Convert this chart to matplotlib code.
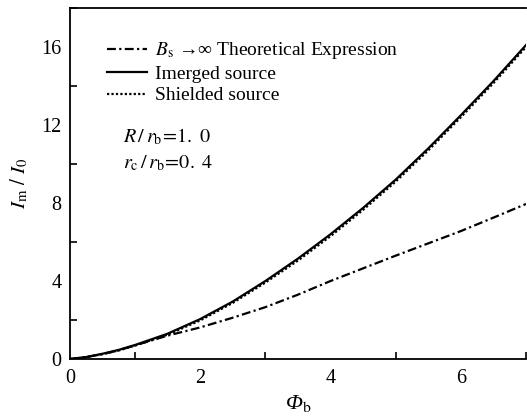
import numpy as np
import matplotlib
matplotlib.use("Agg")
import matplotlib.pyplot as plt
from matplotlib.ticker import MultipleLocator

plt.rcParams['font.family'] = ['Liberation Serif', 'DejaVu Serif']
plt.rcParams['mathtext.fontset'] = 'stix'

# values
phi = [0.0, 0.25, 0.5, 0.75, 1.0, 1.5, 2.0, 2.5, 3.0, 3.5, 4.0, 4.5, 5.0, 5.5, 6.0, 6.5, 7.0]
theory = [0.0, 0.1, 0.25, 0.45, 0.7, 1.2, 1.62, 2.12, 2.66, 3.3, 4.0, 4.65, 5.3, 5.93, 6.56, 7.25, 7.95]
imerged = [0.0, 0.1, 0.27, 0.47, 0.72, 1.3, 2.05, 2.95, 4.0, 5.15, 6.4, 7.75, 9.2, 10.8, 12.5, 14.25, 16.1]
shielded = [0.0, 0.09, 0.25, 0.44, 0.69, 1.25, 1.98, 2.88, 3.92, 5.05, 6.3, 7.65, 9.1, 10.7, 12.4, 14.15, 16.0]

fig = plt.figure(figsize=(5.27, 4.18), dpi=100)
ax = fig.add_axes([70 / 527, (418 - 359) / 418, 456 / 527, 351 / 418])

ax.plot(phi, theory, color='k', lw=1.6, ls=(0, (4, 1.5, 1, 1.5)),
        label=r'$B_{\rm s}$ →∞ Theoretical Expression')
ax.plot(phi, imerged, color='k', lw=1.6, ls='-', label='Imerged source')
ax.plot(phi, shielded, color='k', lw=1.6, ls=(0, (1, 1)), label='Shielded source')

ax.set_xlim(0, 7)
ax.set_ylim(0, 18)
ax.xaxis.set_major_locator(MultipleLocator(2))
ax.xaxis.set_minor_locator(MultipleLocator(1))
ax.yaxis.set_major_locator(MultipleLocator(4))
ax.yaxis.set_minor_locator(MultipleLocator(2))
ax.tick_params(which='both', direction='in', labelsize=14.5, top=False, right=False)
ax.tick_params(which='major', length=0)
ax.tick_params(axis='x', which='major', pad=7)
ax.tick_params(axis='y', which='major', pad=6)
ax.tick_params(which='minor', length=5, width=1.2)
for s in ax.spines.values():
    s.set_linewidth(1.3)
ax.spines['right'].set_visible(False)

ax.set_xlabel('Φ' + r'$_{\rm b}$', fontsize=16, fontstyle='italic', labelpad=4)
ax.set_ylabel(r'$I_{\rm m}\ /\ I_0$', fontsize=15, labelpad=8)

ax.text(0.116, 0.632, r'$R\,/\,r_{\rm b}\!=\!1.\ 0$', transform=ax.transAxes, fontsize=14.5, va='center')
ax.text(0.116, 0.558, r'$r_{\rm c}\,/\,r_{\rm b}\!=\!0.\ 4$', transform=ax.transAxes, fontsize=14.5, va='center')

ax.legend(loc='upper left', bbox_to_anchor=(0.065, 0.93), frameon=False, fontsize=14,
          handlelength=2.05, handletextpad=0.4, labelspacing=0.2, borderaxespad=0)

fig.savefig('out.png', dpi=100)
